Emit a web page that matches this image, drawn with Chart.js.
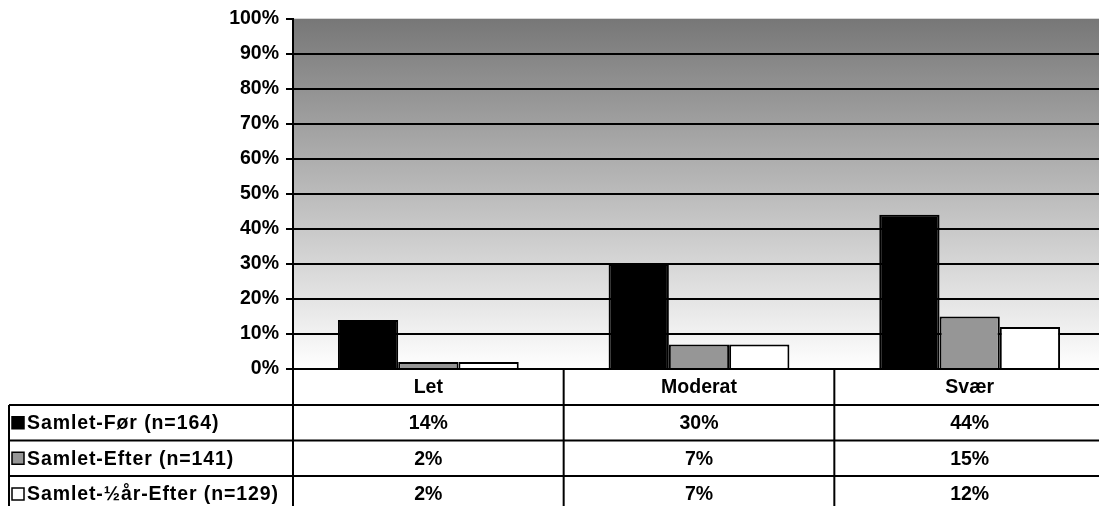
<!DOCTYPE html>
<html>
<head>
<meta charset="utf-8">
<script src="https://cdn.jsdelivr.net/npm/chart.js@4/dist/chart.umd.min.js"></script>
<style>
html,body{margin:0;padding:0;background:#fff;overflow:hidden;width:1099px;height:506px;}
canvas{display:block;}
</style>
</head>
<body>
<canvas id="c" width="1106" height="506" style="width:1106px;height:506px"></canvas>
<script>
const categories = ['Let', 'Moderat', 'Svær'];
const seriesNames = ['Samlet-Før (n=164)', 'Samlet-Efter (n=141)', 'Samlet-½år-Efter (n=129)'];
const samletFoer = [14, 30, 44];
const samletEfter = [2, 7, 15];
const samletHalvaarEfter = [2, 7, 12];
const yTicks = [0, 10, 20, 30, 40, 50, 60, 70, 80, 90, 100];
const seriesColors = ['#000000', '#969696', '#ffffff'];

const FONT = 'bold 19.5px "Liberation Sans", Arial, sans-serif';

const bgPlugin = {
  id: 'bg',
  beforeDraw(chart) {
    const {ctx, chartArea: a} = chart;
    const g = ctx.createLinearGradient(0, a.top, 0, a.bottom);
    g.addColorStop(0, '#777777');
    g.addColorStop(1, '#ffffff');
    ctx.save();
    ctx.fillStyle = g;
    ctx.fillRect(a.left, a.top, a.right - a.left, a.bottom - a.top);
    ctx.restore();
  }
};

const tablePlugin = {
  id: 'table',
  afterDraw(chart) {
    const {ctx, chartArea: a} = chart;
    const xs = chart.scales.x;
    const data = [samletFoer, samletEfter, samletHalvaarEfter];
    const catW = (a.right - a.left) / categories.length;
    const top = a.bottom;
    const rowTops = [top, 405, 440.5, 476, 512];
    const leftX = 9;
    ctx.save();
    ctx.strokeStyle = '#000';
    ctx.lineWidth = 2;
    ctx.beginPath();
    ctx.moveTo(a.left, top); ctx.lineTo(a.right + 2, top);
    for (let r = 1; r < 4; r++) {
      ctx.moveTo(leftX, rowTops[r]); ctx.lineTo(a.right + 2, rowTops[r]);
    }
    ctx.moveTo(leftX, rowTops[1]); ctx.lineTo(leftX, 506);
    for (let i = 0; i <= categories.length; i++) {
      const x = a.left + i * catW;
      ctx.moveTo(x, top); ctx.lineTo(x, 506);
    }
    ctx.stroke();

    ctx.font = FONT;
    ctx.fillStyle = '#000';
    ctx.textBaseline = 'middle';
    ctx.textAlign = 'center';
    categories.forEach((c, i) => {
      const cx = xs.getPixelForValue(i);
      ctx.fillText(c, cx, (rowTops[0] + rowTops[1]) / 2 + 1);
      for (let s = 0; s < 3; s++) {
        ctx.fillText(data[s][i] + '%', cx, (rowTops[s + 1] + rowTops[s + 2]) / 2 + 1);
      }
    });
    ctx.textAlign = 'left';
    if ('letterSpacing' in ctx) ctx.letterSpacing = '0.9px';
    seriesNames.forEach((n, s) => {
      const cy = (rowTops[s + 1] + rowTops[s + 2]) / 2;
      ctx.fillStyle = seriesColors[s];
      ctx.fillRect(12, cy - 6, 12, 12);
      ctx.lineWidth = 1.5;
      ctx.strokeStyle = '#000';
      ctx.strokeRect(12, cy - 6, 12, 12);
      ctx.fillStyle = '#000';
      ctx.fillText(n, 27, cy + 1);
    });
    ctx.restore();
  }
};

new Chart(document.getElementById('c'), {
  type: 'bar',
  data: {
    labels: categories,
    datasets: [
      {label: seriesNames[0], data: samletFoer, backgroundColor: seriesColors[0], borderColor: '#000', borderWidth: 2},
      {label: seriesNames[1], data: samletEfter, backgroundColor: seriesColors[1], borderColor: '#000', borderWidth: 2},
      {label: seriesNames[2], data: samletHalvaarEfter, backgroundColor: seriesColors[2], borderColor: '#000', borderWidth: 2}
    ]
  },
  options: {
    responsive: false,
    animation: false,
    devicePixelRatio: 1,
    layout: {padding: {top: 18, right: 1, bottom: 137, left: 0}},
    plugins: {legend: {display: false}, tooltip: {enabled: false}},
    datasets: {bar: {categoryPercentage: 0.668, barPercentage: 1}},
    scales: {
      x: {display: false},
      y: {
        min: 0, max: 100,
        afterBuildTicks(scale) { scale.ticks = yTicks.map(v => ({value: v})); },
        afterFit(scale) { scale.width = 293; },
        ticks: {
          callback: v => v + '%',
          font: {family: '"Liberation Sans", Arial, sans-serif', size: 19.5, weight: 'bold'},
          color: '#000',
          padding: 7
        },
        grid: {
          color: ctx => (ctx.tick && ctx.tick.value === 100) ? 'rgba(0,0,0,0)' : '#000',
          tickColor: '#000',
          lineWidth: 2,
          tickLength: 7
        },
        border: {color: '#000', width: 2}
      }
    }
  },
  plugins: [bgPlugin, tablePlugin]
});
</script>
</body>
</html>
